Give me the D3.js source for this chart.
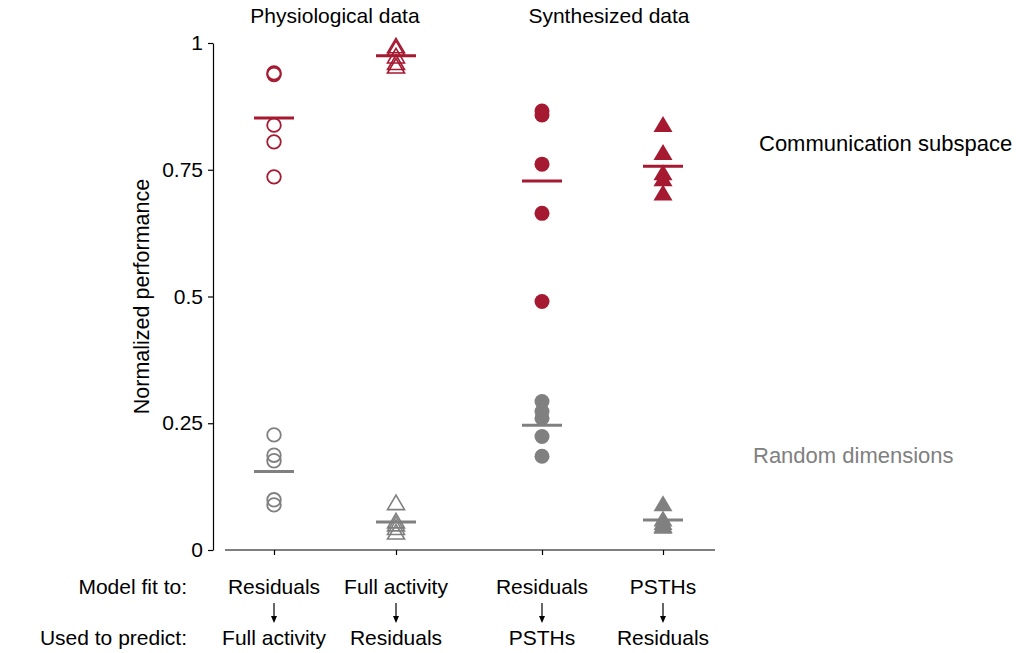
<!DOCTYPE html>
<html>
<head>
<meta charset="utf-8">
<script src="https://cdn.jsdelivr.net/npm/d3@7"></script>
<style>
  body { margin: 0; background: #fff; }
  text { font-family: "Liberation Sans", Arial, sans-serif; }
</style>
</head>
<body>
<script>
// groups along the x axis
let groups = ["physRes", "physFull", "synRes", "synPsth"];
let fitLabels = ["Residuals", "Full activity", "Residuals", "PSTHs"];
let predictLabels = ["Full activity", "Residuals", "PSTHs", "Residuals"];
let markerKinds = ["openCircle", "openTriangle", "circle", "triangle"];

// communication subspace values (red)
let commValues = [
  [0.941, 0.938, 0.838, 0.805, 0.736],
  [0.995, 0.99, 0.975, 0.962, 0.955],
  [0.866, 0.858, 0.761, 0.664, 0.49],
  [0.840, 0.785, 0.745, 0.733, 0.705]
];
let commMeans = [0.852, 0.975, 0.728, 0.757];

// random dimensions values (gray)
let randValues = [
  [0.227, 0.187, 0.176, 0.099, 0.089],
  [0.094, 0.058, 0.052, 0.045, 0.036],
  [0.293, 0.273, 0.26, 0.224, 0.185],
  [0.092, 0.062, 0.055, 0.05, 0.048]
];
let randMeans = [0.155, 0.055, 0.246, 0.059];

let yTicks = [0, 0.25, 0.5, 0.75, 1];
let yTickLabels = ["0", "0.25", "0.5", "0.75", "1"];

function drawChart(){
  let width = 1016;
  let height = 653;
  let red = "#a51931";
  let gray = "#808080";
  let fs = "21px";

  let svg = d3.select("body").append("svg")
    .attr("width", width).attr("height", height);

  // scales
  let yScale = d3.scaleLinear().domain([0, 1]).range([550, 43]);
  let xScale = d3.scaleOrdinal().domain(groups).range([274, 396, 542, 663]);
  let axisX = 213;
  let xAxisStart = 225, xAxisEnd = 715;

  // y axis
  let yAxis = d3.axisLeft(yScale)
    .tickValues(yTicks)
    .tickFormat(function(d, i){ return yTickLabels[i]; })
    .tickSize(5).tickSizeOuter(0).tickPadding(5);
  let yg = svg.append("g")
    .attr("transform", "translate(" + axisX + ",0)")
    .call(yAxis);
  yg.select(".domain").attr("stroke", "#000").attr("stroke-width", 1.2);
  yg.selectAll(".tick line").attr("stroke", "#000").attr("stroke-width", 1.2);
  yg.selectAll("text").style("font-size", fs).attr("fill", "#000")
    .style("font-family", "'Liberation Sans', Arial, sans-serif");

  // x axis
  let xAxis = d3.axisBottom(xScale).tickSize(5).tickSizeOuter(0).tickFormat("");
  let xg = svg.append("g")
    .attr("transform", "translate(0," + yScale(0) + ")")
    .call(xAxis);
  xg.select(".domain").attr("d", "M" + xAxisStart + ",0H" + xAxisEnd)
    .attr("stroke", "#000").attr("stroke-width", 1.2);
  xg.selectAll(".tick line").attr("stroke", "#000").attr("stroke-width", 1.2);

  // y label
  svg.append("text")
    .attr("transform", "translate(149," + yScale(0.5) + ") rotate(-90)")
    .attr("text-anchor", "middle")
    .style("font-size", "21.5px")
    .text("Normalized performance");

  // marker shapes
  function triPath(w, h){
    return "M0," + (-h/2) + "L" + (w/2) + "," + (h/2) + "L" + (-w/2) + "," + (h/2) + "Z";
  }

  function drawMarkers(valueSets, color){
    valueSets.forEach(function(vals, gi){
      let kind = markerKinds[gi];
      let g = svg.append("g");
      let sel = g.selectAll(".m").data(vals).enter();
      if(kind == "openCircle" || kind == "circle"){
        sel.append("circle")
          .attr("cx", xScale(groups[gi]))
          .attr("cy", function(d){ return yScale(d); })
          .attr("r", kind == "circle" ? 7.5 : 6.8)
          .attr("fill", kind == "circle" ? color : "none")
          .attr("stroke", color)
          .attr("stroke-width", kind == "circle" ? 0 : 1.8);
      } else {
        sel.append("path")
          .attr("transform", function(d){ return "translate(" + xScale(groups[gi]) + "," + yScale(d) + ")"; })
          .attr("d", kind == "triangle" ? triPath(19, 16) : triPath(17, 14.5))
          .attr("fill", kind == "triangle" ? color : "none")
          .attr("stroke", color)
          .attr("stroke-width", kind == "triangle" ? 0 : 1.6)
          .attr("stroke-linejoin", "miter");
      }
    });
  }

  function drawMeans(means, color){
    svg.append("g").selectAll("line")
      .data(means)
      .enter()
      .append("line")
        .attr("x1", function(d, i){ return xScale(groups[i]) - 20; })
        .attr("x2", function(d, i){ return xScale(groups[i]) + 20; })
        .attr("y1", function(d){ return yScale(d); })
        .attr("y2", function(d){ return yScale(d); })
        .attr("stroke", color)
        .attr("stroke-width", 3);
  }

  drawMarkers(randValues, gray);
  drawMeans(randMeans, gray);
  drawMarkers(commValues, red);
  drawMeans(commMeans, red);

  // top titles
  svg.append("text").attr("x", 335).attr("y", 23).attr("text-anchor", "middle")
    .style("font-size", fs).text("Physiological data");
  svg.append("text").attr("x", 609).attr("y", 23).attr("text-anchor", "middle")
    .style("font-size", fs).text("Synthesized data");

  // legend texts
  svg.append("text").attr("x", 759).attr("y", 151)
    .style("font-size", "22px").attr("fill", "#000").text("Communication subspace");
  svg.append("text").attr("x", 753).attr("y", 463)
    .style("font-size", "22px").attr("fill", gray).text("Random dimensions");

  // bottom labels
  svg.append("text").attr("x", 187).attr("y", 594).attr("text-anchor", "end")
    .style("font-size", fs).text("Model fit to:");
  svg.append("text").attr("x", 187).attr("y", 645).attr("text-anchor", "end")
    .style("font-size", fs).text("Used to predict:");

  let lab = svg.append("g").selectAll("g")
    .data(groups)
    .enter()
    .append("g")
      .attr("transform", function(d){ return "translate(" + xScale(d) + ",0)"; });
  lab.append("text").attr("y", 594).attr("text-anchor", "middle")
    .style("font-size", fs).text(function(d, i){ return fitLabels[i]; });
  lab.append("text").attr("y", 645).attr("text-anchor", "middle")
    .style("font-size", fs).text(function(d, i){ return predictLabels[i]; });
  lab.append("line").attr("x1", 0).attr("x2", 0).attr("y1", 603).attr("y2", 617)
    .attr("stroke", "#000").attr("stroke-width", 1.2);
  lab.append("path").attr("d", "M-3,616L3,616L0,623Z").attr("fill", "#000");
}

drawChart();
</script>
</body>
</html>
